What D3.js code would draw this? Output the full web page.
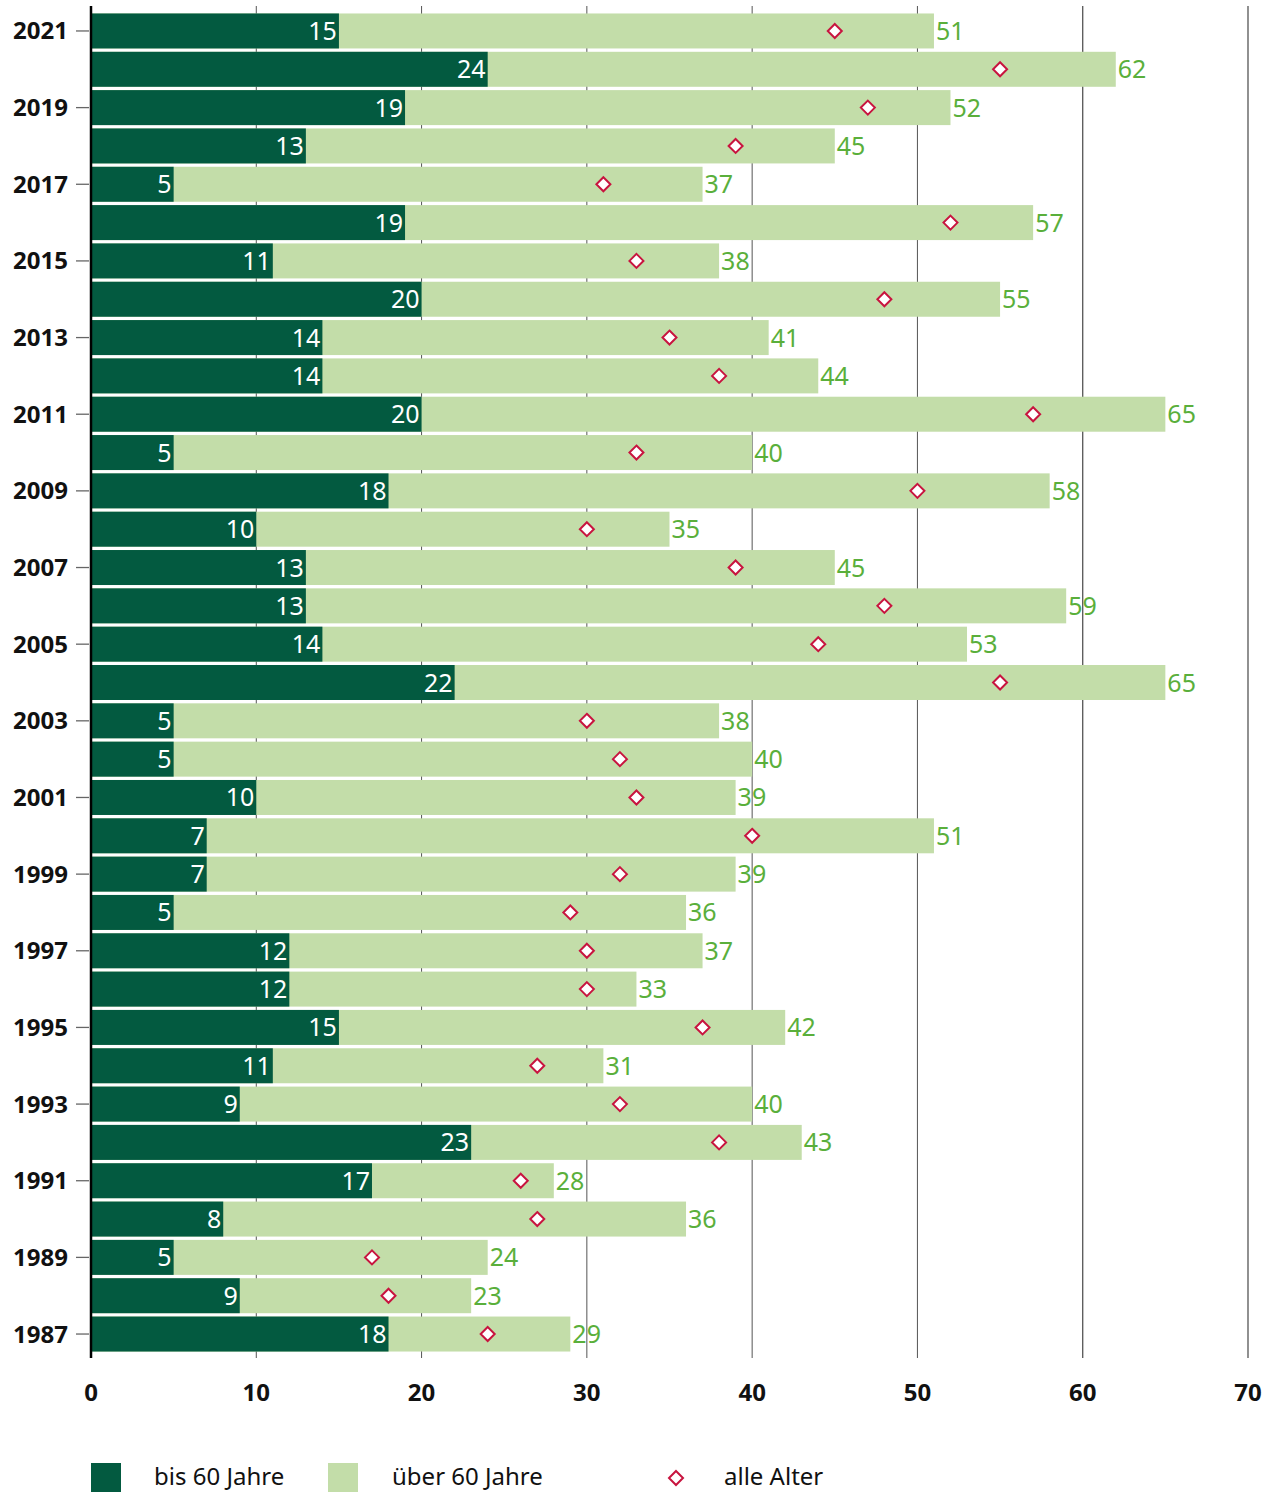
<!DOCTYPE html>
<html>
<head>
<meta charset="utf-8">
<script src="https://cdn.jsdelivr.net/npm/d3@7"></script>
<style>
  html, body { margin: 0; padding: 0; background: #fff; }
  svg { display: block; }
  text { font-family: "Noto Sans", "Open Sans", sans-serif; }
</style>
</head>
<body>
<svg id="chart" width="1270" height="1492"></svg>
<script>
// Years (top to bottom) and the three series
const years = [2021, 2020, 2019, 2018, 2017, 2016, 2015, 2014, 2013, 2012, 2011, 2010,
  2009, 2008, 2007, 2006, 2005, 2004, 2003, 2002, 2001, 2000, 1999, 1998, 1997, 1996,
  1995, 1994, 1993, 1992, 1991, 1990, 1989, 1988, 1987];
const bis60 = [15, 24, 19, 13, 5, 19, 11, 20, 14, 14, 20, 5, 18, 10, 13, 13, 14, 22, 5, 5,
  10, 7, 7, 5, 12, 12, 15, 11, 9, 23, 17, 8, 5, 9, 18];
const ueber60 = [51, 62, 52, 45, 37, 57, 38, 55, 41, 44, 65, 40, 58, 35, 45, 59, 53, 65, 38, 40,
  39, 51, 39, 36, 37, 33, 42, 31, 40, 43, 28, 36, 24, 23, 29];
const alleAlter = [45, 55, 47, 39, 31, 52, 33, 48, 35, 38, 57, 33, 50, 30, 39, 48, 44, 55, 30, 32,
  33, 40, 32, 29, 30, 30, 37, 27, 32, 38, 26, 27, 17, 18, 24];
const xTicks = [0, 10, 20, 30, 40, 50, 60, 70];
const yLabelYears = years.filter(y => y % 2 === 1);
const legendItems = ["bis 60 Jahre", "über 60 Jahre", "alle Alter"];

const COLORS = { dark: "#035a40", light: "#c3dda9", labelGreen: "#5aaf3b", diamond: "#c8143f" };

const svg = d3.select("#chart");
const x = d3.scaleLinear().domain([0, 70]).range([91, 1248]);
const y = d3.scaleBand().domain(years).range([11.8, 1353.2]).paddingInner(0.087).paddingOuter(0.0435);

const rows = years.map((yr, i) => ({ year: yr, bis: bis60[i], ueber: ueber60[i], alle: alleAlter[i] }));

// vertical grid lines (behind the bars)
svg.append("g").selectAll("line").data(xTicks.slice(1)).join("line")
  .attr("x1", d => x(d)).attr("x2", d => x(d))
  .attr("y1", 6).attr("y2", 1358)
  .attr("stroke", "#555")
  .attr("stroke-width", d => d >= 60 ? 1.3 : 1);

// light bars (over 60)
svg.append("g").selectAll("rect").data(rows).join("rect")
  .attr("x", x(0)).attr("y", d => y(d.year))
  .attr("width", d => x(d.ueber) - x(0)).attr("height", y.bandwidth())
  .attr("fill", COLORS.light);

// dark bars (up to 60)
svg.append("g").selectAll("rect").data(rows).join("rect")
  .attr("x", x(0)).attr("y", d => y(d.year))
  .attr("width", d => x(d.bis) - x(0)).attr("height", y.bandwidth())
  .attr("fill", COLORS.dark);

// labels inside dark bars
svg.append("g").selectAll("text").data(rows).join("text")
  .attr("x", d => x(d.bis) - 2).attr("y", d => y(d.year) + y.bandwidth() / 2 + 9)
  .attr("text-anchor", "end").attr("font-size", 25).attr("fill", "#fff")
  .text(d => d.bis);

// labels after light bars
svg.append("g").selectAll("text").data(rows).join("text")
  .attr("x", d => x(d.ueber) + 2).attr("y", d => y(d.year) + y.bandwidth() / 2 + 9)
  .attr("text-anchor", "start").attr("font-size", 25).attr("fill", COLORS.labelGreen)
  .text(d => d.ueber);

// diamonds for all ages
const diamond = (cx, cy, r) => `M${cx},${cy - r}L${cx + r},${cy}L${cx},${cy + r}L${cx - r},${cy}Z`;
svg.append("g").selectAll("path").data(rows).join("path")
  .attr("d", d => diamond(x(d.alle), y(d.year) + y.bandwidth() / 2, 7))
  .attr("fill", "#fff").attr("stroke", COLORS.diamond).attr("stroke-width", 2);

// y axis: baseline, tick marks and year labels
svg.append("line").attr("x1", x(0)).attr("x2", x(0)).attr("y1", 6).attr("y2", 1358)
  .attr("stroke", "#000").attr("stroke-width", 2.5);
const yl = svg.append("g").selectAll("g").data(yLabelYears).join("g")
  .attr("transform", d => `translate(0,${y(d) + y.bandwidth() / 2})`);
yl.append("line").attr("x1", 76).attr("x2", 89).attr("stroke", "#666").attr("stroke-width", 1.3);
yl.append("text").attr("x", 68).attr("y", 8.5).attr("text-anchor", "end")
  .attr("font-size", 24).attr("font-weight", "bold").attr("fill", "#111").text(d => d);

// x axis labels
svg.append("g").selectAll("text").data(xTicks).join("text")
  .attr("x", d => x(d)).attr("y", 1401).attr("text-anchor", "middle")
  .attr("font-size", 24).attr("font-weight", "bold").attr("fill", "#111").text(d => d);

// legend
const lg = svg.append("g");
lg.append("rect").attr("x", 91).attr("y", 1463).attr("width", 30).attr("height", 29).attr("fill", COLORS.dark);
lg.append("text").attr("x", 154).attr("y", 1485).attr("font-size", 24).attr("fill", "#111").text(legendItems[0]);
lg.append("rect").attr("x", 328).attr("y", 1463).attr("width", 30).attr("height", 29).attr("fill", COLORS.light);
lg.append("text").attr("x", 392).attr("y", 1485).attr("font-size", 24).attr("fill", "#111").text(legendItems[1]);
lg.append("path").attr("d", diamond(676, 1478, 7)).attr("fill", "#fff").attr("stroke", COLORS.diamond).attr("stroke-width", 2);
lg.append("text").attr("x", 724).attr("y", 1485).attr("font-size", 24).attr("fill", "#111").text(legendItems[2]);
</script>
</body>
</html>
